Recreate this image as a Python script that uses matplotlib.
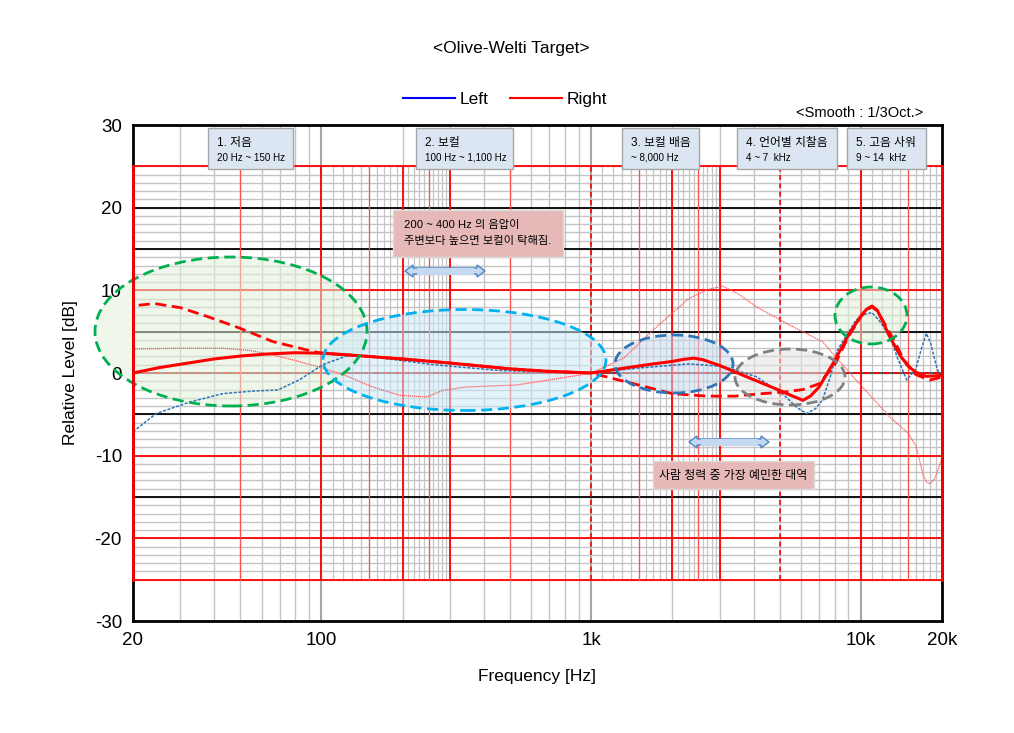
import matplotlib
matplotlib.use("Agg")
import matplotlib.pyplot as plt
import numpy as np
from matplotlib.patches import Ellipse, Rectangle, FancyArrow
from matplotlib.lines import Line2D

plt.rcParams['font.family'] = ['Liberation Sans', 'Noto Sans CJK KR', 'DejaVu Sans']
plt.rcParams['axes.unicode_minus'] = False

# ---- data (Hz, dB) ----
target_f = [20, 25, 32, 40, 50, 63, 80, 100, 125, 150, 200, 300, 500, 700, 1000,
            1300, 1700, 2000, 2200, 2400, 2600, 3000, 4000, 5000, 5500, 6100, 6500,
            7000, 7900, 9000, 10000, 10500, 11000, 11500, 12000, 12700, 13300,
            14000, 15000, 16000, 17500, 20000]
target_db = [0, 0.65, 1.2, 1.7, 2.05, 2.3, 2.45, 2.4, 2.2, 2.0, 1.7, 1.2, 0.5, 0.2, 0,
             0.55, 1.1, 1.4, 1.65, 1.8, 1.6, 0.9, -0.8, -2.1, -2.7, -3.3, -2.8,
             -1.7, 1.2, 4.6, 6.9, 7.7, 8.1, 7.6, 6.4, 4.6, 3.4,
             2.1, 0.8, 0.1, -0.4, -0.3]

dashed_f = [21, 24, 30, 38, 50, 66, 88, 100, 150, 200, 300, 500, 700, 1000,
            1500, 2000, 2700, 3400, 4300, 5200, 6100, 7000, 8000, 9000, 10000,
            10500, 11000, 11500, 12000, 13300, 14500, 16000, 18000, 20000]
dashed_db = [8.2, 8.4, 7.9, 6.8, 5.4, 3.8, 2.8, 2.4, 2.0, 1.7, 1.2, 0.5, 0.2, 0,
             -1.45, -2.5, -2.8, -2.8, -2.5, -2.3, -2.0, -1.3, 1.0, 4.4, 6.8,
             7.6, 8.0, 7.5, 6.5, 3.9, 1.5, -0.2, -0.85, -0.5]

right_f = [20, 30, 43, 55, 66, 80, 101, 125, 152, 195, 245, 282, 342, 530, 813,
           1000, 1320, 1750, 2300, 2700, 3080, 3500, 4100, 5450, 7200, 9600, 12800,
           15000, 16000, 16500, 17000, 17500, 18000, 18700, 19300, 20000]
right_db = [2.9, 3.0, 3.0, 2.7, 2.2, 1.5, 0.6, -0.4, -1.6, -2.7, -2.9, -2.1, -1.7,
            -1.45, -0.5, 0, 1.8, 5.6, 9.0, 10.1, 10.5, 9.6, 8.0, 5.8, 3.8, -0.85,
            -5.3, -7.3, -8.8, -10.5, -12.3, -13.2, -13.4, -12.9, -11.8, -10.3]

left_f = [20, 24.4, 32.6, 43, 55, 69, 83, 101, 127, 147, 200, 260, 460, 1000,
          1500, 2300, 3080, 4100, 5200, 5800, 6300, 6800, 7200, 7700, 8200, 9600,
          10300, 11000, 11800, 12800, 13800, 14800, 16000, 16800, 17500, 18200,
          19000, 19500, 20000]
left_db = [-7.1, -4.9, -3.5, -2.5, -2.2, -2.05, -0.8, 1.0, 2.2, 2.0, 1.5, 1.0, 0.3,
           0, 0.6, 1.1, 0.8, -0.45, -2.7, -4.2, -4.9, -4.3, -3.3, -0.5, 2.8, 6.4,
           7.1, 7.3, 6.2, 4.4, 1.5, -0.85, 0.5, 3.0, 4.8, 3.5,
           1.0, -0.1, -0.5]

xticks = [20, 100, 1000, 10000, 20000]
xtick_labels = ["20", "100", "1k", "10k", "20k"]
yticks = [-30, -20, -10, 0, 10, 20, 30]

boxes = [("1. 저음", "20 Hz ~ 150 Hz"),
         ("2. 보컬", "100 Hz ~ 1,100 Hz"),
         ("3. 보컬 배음", "~ 8,000 Hz"),
         ("4. 언어별 치찰음", "4 ~ 7  kHz"),
         ("5. 고음 사워", "9 ~ 14  kHz")]
note1 = "200 ~ 400 Hz 의 음압이\n주변보다 높으면 보컬이 탁해짐."
note2 = "사람 청력 중 가장 예민한 대역"

W, H = 1014, 733
fig = plt.figure(figsize=(W / 100, H / 100), dpi=100)
ax = fig.add_axes([133 / W, 1 - 621 / H, 809 / W, 496 / H])


def px(x, y):
    return (x / W, 1 - y / H)


# ---- grid ----
band = dict(ymin=5 / 60, ymax=55 / 60)
full_v = list(range(30, 100, 10)) + list(range(200, 1000, 100)) + \
    list(range(2000, 10000, 1000))
band_v = list(range(110, 200, 10)) + list(range(210, 300, 10)) + \
    list(range(1100, 3000, 100)) + list(range(11000, 20000, 1000))
for f in full_v:
    ax.axvline(f, color="#c4c4c4", lw=1, zorder=1)
for f in band_v:
    ax.axvline(f, color="#c4c4c4", lw=0.9, zorder=1, **band)
for f in [100, 1000, 10000]:
    ax.axvline(f, color="#a6a6a6", lw=1.5, zorder=1)
for d in range(-25, 26):
    ax.axhline(d, color="#c4c4c4", lw=1, zorder=1)
for d in [20, 15, 5, -5, -15]:
    ax.axhline(d, color="black", lw=1.3, zorder=1.2)
for d in [25, 10, -10, -20, -25]:
    ax.axhline(d, color="red", lw=1.3, zorder=1.2)
ax.axhline(0, color="#404040", lw=1.2, zorder=1.2)
ax.axhline(0, color="red", lw=1.2, ls=(0, (4, 2)), zorder=1.25)
for f in [50, 150, 250, 500, 1500, 2500, 15000]:
    ax.axvline(f, color="#ff5050", lw=0.9, zorder=1.2, **band)
for f in [100, 200, 300, 2000, 3000, 10000]:
    ax.axvline(f, color="red", lw=1.3, zorder=1.2, **band)
for f in [1000, 5000]:
    ax.axvline(f, color="red", lw=1.2, ls=(0, (3, 2)), zorder=1.2, **band)
for f in [20, 20000]:
    ax.axvline(f, color="red", lw=2, zorder=5, clip_on=False, **band)

# ---- highlight ellipses ----
ellipses = [((231, 331.5), 272, 149, "#00b050", "#e2efd9"),
            ((464.5, 360), 283, 101, "#00b0f0", "#cdeaf8"),
            ((674, 364), 118, 58, "#2e75b6", "#c9dcef"),
            ((790, 377), 110, 56, "#808080", "#e4e4e4"),
            ((871, 315.5), 72, 57, "#00b050", "#e2efd9")]
for (cx, cy), ew, eh, ec, fc in ellipses:
    e = Ellipse(px(cx, cy), ew / W, eh / H, transform=fig.transFigure,
                facecolor=fc, alpha=0.55, edgecolor="none", zorder=1.5,
                clip_on=False)
    ax.add_patch(e)
    e2 = Ellipse(px(cx, cy), ew / W, eh / H, transform=fig.transFigure,
                 facecolor="none", edgecolor=ec, lw=2, ls=(0, (4, 2)),
                 zorder=3.5, clip_on=False)
    ax.add_patch(e2)

# ---- curves ----
ax.plot(right_f, right_db, color="#ff5a5a", lw=0.9, ls=(0, (1, 0.6)), zorder=2.5)
ax.plot(left_f, left_db, color="#2e75b6", lw=1.1, ls=(0, (2, 1)), zorder=2.6)
ax.plot(dashed_f, dashed_db, color="red", lw=2, ls=(0, (4, 2)), zorder=3)
ax.plot(target_f, target_db, color="red", lw=2.2, zorder=3.2)

ax.set_xscale("log")
ax.set_xlim(20, 20000)
ax.set_ylim(-30, 30)
ax.set_xticks(xticks)
ax.set_xticklabels(xtick_labels)
ax.minorticks_off()
ax.set_yticks(yticks)
ax.tick_params(length=0, labelsize=13.5, pad=8)
ax.set_xlabel("Frequency [Hz]", fontsize=12.5, labelpad=14)
ax.set_ylabel("Relative Level [dB]", fontsize=12.5, labelpad=12)
for s in ax.spines.values():
    s.set_linewidth(2)
    s.set_zorder(4)

# ---- boxes ----
box_px = [(208, 293), (416, 513), (622, 699), (737, 837), (847, 926)]
for (x0, x1), (t1, t2) in zip(box_px, boxes):
    r = Rectangle(px(x0, 169), (x1 - x0) / W, 41 / H, transform=fig.transFigure,
                  facecolor="#dce6f2", edgecolor="#a6a6a6", lw=1, zorder=6,
                  clip_on=False)
    ax.add_patch(r)
    fig.text(*px(x0 + 9, 143), t1, fontsize=8.5, va="center", zorder=7)
    fig.text(*px(x0 + 9, 158), t2, fontsize=7.1, va="center", zorder=7)

r = Rectangle(px(393, 257), 170 / W, 47 / H, transform=fig.transFigure,
              facecolor="#e6b9b8", edgecolor="#d9d9d9", lw=1, zorder=6,
              clip_on=False)
ax.add_patch(r)
fig.text(*px(404, 233), note1, fontsize=8.1, va="center", linespacing=1.8, zorder=7)

r = Rectangle(px(653, 489), 161 / W, 28 / H, transform=fig.transFigure,
              facecolor="#e6b9b8", edgecolor="#d9d9d9", lw=1, zorder=6,
              clip_on=False)
ax.add_patch(r)
fig.text(*px(733, 476), note2, fontsize=8.6, ha="center", va="center", zorder=7)

# double arrows
for x0, x1, y in [(405, 485, 271), (689, 769, 442)]:
    xa, ya = px(x0, y)
    xb, _ = px(x1, y)
    mid = (xa + xb) / 2
    for start, end in [(mid, xa), (mid, xb)]:
        a = FancyArrow(start, ya, end - start, 0, width=6 / H, head_width=12 / H,
                       head_length=8 / W, length_includes_head=True,
                       transform=fig.transFigure, facecolor="#c5d9f1",
                       edgecolor="#4a86c8", lw=1, zorder=6, clip_on=False)
        ax.add_patch(a)
    ax.add_line(Line2D([mid - 0.025, mid + 0.025], [ya, ya], color="#c5d9f1",
                       lw=5, transform=fig.transFigure, zorder=6.1, clip_on=False))

# ---- title, legend ----
fig.text(*px(511, 48), "<Olive-Welti Target>", fontsize=12.5, ha="center", va="center")
handles = [Line2D([], [], color="#0000ff", lw=1.5), Line2D([], [], color="red", lw=1.5)]
fig.legend(handles, ["Left", "Right"], loc="center", bbox_to_anchor=px(505, 99),
           ncol=2, frameon=False, fontsize=12.5, handlelength=3, columnspacing=1.2,
           handletextpad=0.3)
fig.text(*px(923, 113), "<Smooth : 1/3Oct.>", fontsize=10.5, ha="right", va="center")

fig.savefig("out.png", dpi=100)
